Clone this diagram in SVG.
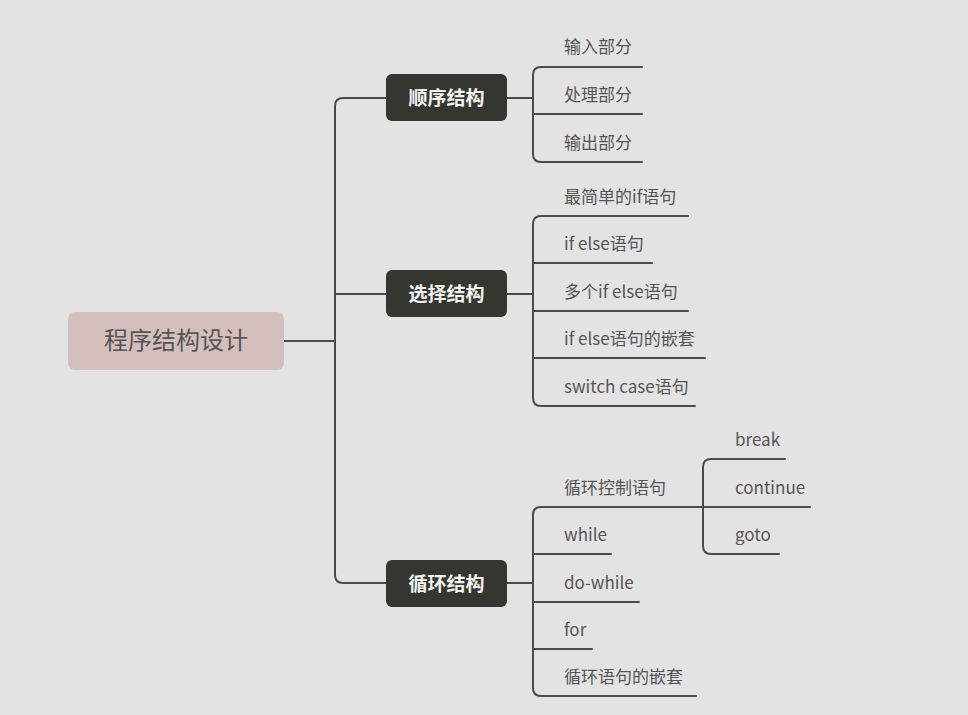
<svg xmlns="http://www.w3.org/2000/svg" width="968" height="715" viewBox="0 0 968 715">
<style>
.ln{fill:none;stroke:#4b4b4b;stroke-width:2;stroke-linecap:round;stroke-linejoin:round}
.leaf{font-family:"Noto Sans CJK SC","Noto Sans",sans-serif;font-size:17px;fill:#555}
.topic rect{fill:#363631}
.topic text{font-family:"Noto Sans CJK SC","Noto Sans",sans-serif;font-size:19px;font-weight:bold;fill:#f2f2f2;text-anchor:middle}
</style>
<rect width="968" height="715" fill="#e3e3e3"/>
<g id="connectors">
<path class="ln" d="M284 341 H335"/>
<path class="ln" d="M386 98 H343 Q335 98 335 106 V575 Q335 583 343 583 H386"/>
<path class="ln" d="M335 294 H386"/>
<path class="ln" d="M507 98 H533"/>
<path class="ln" d="M642 67 H541 Q533 67 533 75 V154 Q533 162 541 162 H642"/>
<path class="ln" d="M533 114 H642"/>
<path class="ln" d="M507 294 H533"/>
<path class="ln" d="M688 216 H541 Q533 216 533 224 V398 Q533 406 541 406 H695"/>
<path class="ln" d="M533 263 H652"/>
<path class="ln" d="M533 311 H688"/>
<path class="ln" d="M533 358 H705"/>
<path class="ln" d="M507 583 H533"/>
<path class="ln" d="M678 507 H541 Q533 507 533 515 V688 Q533 696 541 696 H696"/>
<path class="ln" d="M533 554 H611"/>
<path class="ln" d="M533 602 H639"/>
<path class="ln" d="M533 649 H592"/>
<path class="ln" d="M678 507 H810"/>
<path class="ln" d="M785 459 H711 Q703 459 703 467 V546 Q703 554 711 554 H779"/>
</g>
<g id="root">
<rect x="68" y="312" width="216" height="58" rx="7" fill="#d5bfbd"/>
<text x="176" y="349" font-family="'Noto Sans CJK SC','Noto Sans',sans-serif" font-size="24" fill="#555" text-anchor="middle">程序结构设计</text>
</g>
<g id="seq" class="topic"><rect x="386" y="74" width="121" height="47" rx="6"/><text x="446.5" y="104.500">顺序结构</text></g>
<g id="sel" class="topic"><rect x="386" y="270" width="121" height="47" rx="6"/><text x="446.5" y="300.500">选择结构</text></g>
<g id="loop" class="topic"><rect x="386" y="560" width="121" height="47" rx="6"/><text x="446.5" y="590.500">循环结构</text></g>
<g id="s1"><text class="leaf" x="564" y="53">输入部分</text></g>
<g id="s2"><text class="leaf" x="564" y="101">处理部分</text></g>
<g id="s3"><text class="leaf" x="564" y="149">输出部分</text></g>
<g id="c1"><text class="leaf" x="564" y="203">最简单的if语句</text></g>
<g id="c2"><text class="leaf" x="564" y="250">if else语句</text></g>
<g id="c3"><text class="leaf" x="564" y="298">多个if else语句</text></g>
<g id="c4"><text class="leaf" x="564" y="345">if else语句的嵌套</text></g>
<g id="c5"><text class="leaf" x="564" y="393">switch case语句</text></g>
<g id="l1"><text class="leaf" x="564" y="494">循环控制语句</text></g>
<g id="l2"><text class="leaf" x="564" y="541">while</text></g>
<g id="l3"><text class="leaf" x="564" y="589">do-while</text></g>
<g id="l4"><text class="leaf" x="564" y="636">for</text></g>
<g id="l5"><text class="leaf" x="564" y="683">循环语句的嵌套</text></g>
<g id="b1"><text class="leaf" x="735" y="446">break</text></g>
<g id="b2"><text class="leaf" x="735" y="494">continue</text></g>
<g id="b3"><text class="leaf" x="735" y="541">goto</text></g>
</svg>
